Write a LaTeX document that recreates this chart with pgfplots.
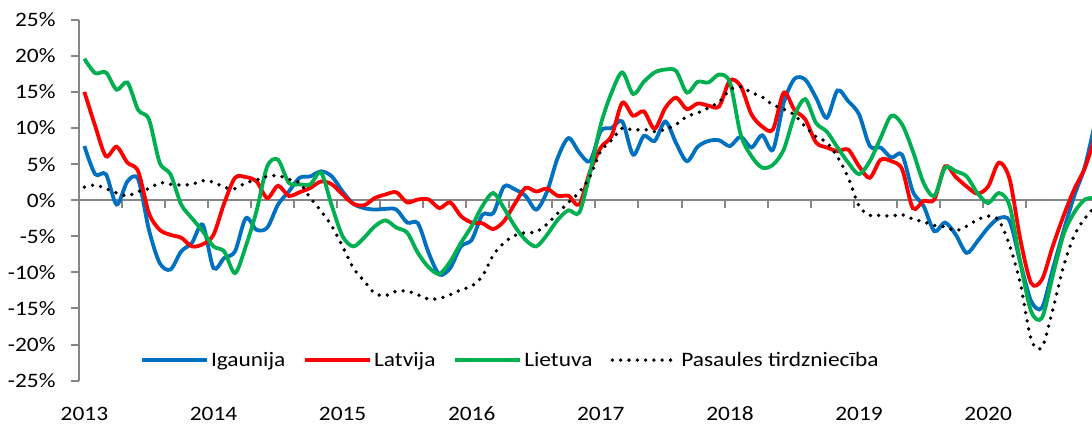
\documentclass[border=0pt]{standalone}
\usepackage{pgfplots}
\pgfplotsset{compat=1.18}
\usepackage{pgfplotstable}
\usepackage{fontspec}
\setmainfont{Carlito}[FakeStretch=1.14]
\definecolor{cblue}{HTML}{0070C0}
\definecolor{cred}{HTML}{FF0000}
\definecolor{cgreen}{HTML}{00B050}
\definecolor{axgray}{HTML}{868686}

\pgfplotstableread{
m b r g w
0 7.5 15.0 19.6 1.8
1 3.6 10.3 17.6 2.1
2 3.6 6.1 17.7 1.6
3 -0.6 7.4 15.3 1.0
4 2.6 5.2 16.3 0.6
5 2.9 4.0 12.5 1.2
6 -4.1 -1.8 11.2 1.6
7 -8.7 -4.1 5.2 2.4
8 -9.6 -4.8 3.6 2.2
9 -7.1 -5.2 -0.6 2.1
10 -5.9 -6.4 -2.5 2.2
11 -3.4 -6.1 -4.3 2.7
12 -9.4 -4.8 -6.4 2.5
13 -8.0 -0.4 -7.1 1.8
14 -7.1 3.1 -10.1 1.6
15 -2.5 3.2 -6.4 2.4
16 -4.1 2.6 -1.5 2.8
17 -3.8 0.3 4.7 3.3
18 -0.6 2.0 5.6 3.4
19 1.2 0.6 2.4 2.9
20 3.1 1.1 2.2 2.4
21 3.3 1.7 2.2 0.3
22 4.0 2.6 3.8 -1.5
23 3.3 2.2 -0.8 -3.6
24 1.2 0.8 -5.0 -6.4
25 -0.5 -0.5 -6.4 -9.4
26 -1.1 -0.7 -5.2 -11.2
27 -1.3 0.3 -3.6 -12.9
28 -1.2 0.8 -2.8 -13.2
29 -1.3 1.1 -3.8 -12.6
30 -3.1 -0.3 -4.5 -12.6
31 -3.2 0.1 -7.3 -13.1
32 -7.3 0.1 -9.3 -13.7
33 -10.3 -1.1 -10.2 -13.6
34 -9.4 -0.3 -8.5 -13.1
35 -6.4 -2.2 -5.9 -12.4
36 -5.5 -3.1 -3.6 -11.9
37 -2.0 -3.2 -0.8 -10.5
38 -1.8 -4.0 1.0 -7.6
39 1.9 -2.9 -1.1 -5.9
40 1.5 -0.5 -3.6 -4.9
41 0.6 1.7 -5.5 -4.5
42 -1.3 1.2 -6.4 -4.4
43 1.2 1.6 -4.8 -3.3
44 5.9 0.6 -2.7 -1.8
45 8.6 0.6 -1.4 -0.3
46 6.6 -0.6 -1.7 1.1
47 5.4 4.0 3.8 3.3
48 9.6 7.3 10.5 6.8
49 10.0 8.9 14.9 8.3
50 10.9 13.5 17.7 10.0
51 6.3 11.7 14.7 9.7
52 8.9 12.3 16.4 9.8
53 8.2 9.9 17.7 9.5
54 10.9 12.8 18.1 9.8
55 7.9 14.2 17.9 10.5
56 5.4 12.6 14.9 11.6
57 7.4 13.4 16.4 12.1
58 8.2 13.1 16.3 12.8
59 8.3 13.0 17.4 13.6
60 7.5 16.6 16.3 15.3
61 8.8 15.8 9.1 15.7
62 7.3 11.9 6.1 14.9
63 9.0 10.2 4.5 14.3
64 7.0 9.8 4.9 13.2
65 13.5 14.9 7.0 12.6
66 16.8 12.5 11.7 11.8
67 16.7 11.2 14.0 10.2
68 14.2 8.0 10.7 8.8
69 11.4 7.3 9.5 8.0
70 15.2 6.8 7.3 6.0
71 13.7 7.0 5.2 3.1
72 11.9 4.7 3.6 -0.8
73 7.5 3.1 5.4 -2.1
74 7.3 5.6 8.6 -2.1
75 5.9 5.4 11.7 -2.2
76 6.3 4.3 10.5 -2.0
77 1.2 -1.1 6.8 -2.6
78 -0.8 -0.1 2.4 -3.0
79 -4.3 0.1 0.6 -3.5
80 -3.1 4.7 4.5 -3.7
81 -4.8 3.2 4.0 -4.2
82 -7.3 1.9 3.3 -3.6
83 -5.7 0.9 1.0 -2.7
84 -3.8 1.9 -0.4 -2.2
85 -2.5 5.2 1.0 -2.8
86 -2.9 2.9 -0.8 -6.3
87 -8.7 -5.5 -8.7 -11.6
88 -14.0 -11.5 -15.4 -19.3
89 -14.9 -11.0 -16.3 -20.4
90 -9.6 -6.4 -10.5 -15.2
91 -4.3 -2.2 -4.8 -9.2
92 0.6 1.5 -1.7 -4.9
93 4.7 4.5 0.1 -2.5
94 11.2 9.1 0.3 -0.8
}\data

\begin{document}
\begin{tikzpicture}
\path[use as bounding box] (0,0) rectangle (1092pt,425pt);
\begin{axis}[
  at={(79pt,44.3pt)}, anchor=south west,
  scale only axis, width=1013pt, height=361pt,
  xmin=-0.5, xmax=93.65, ymin=-25, ymax=25,
  axis x line=middle, axis y line=left,
  x axis line style={-, draw=axgray, line width=2pt},
  y axis line style={-, draw=axgray, line width=2pt},
  hide obscured x ticks=false, hide obscured y ticks=false,
  xmajorticks=true, ymajorticks=true,
  tick align=outside, xtick align=outside, ytick align=outside,
  major tick length=8pt,
  every tick/.style={draw=axgray, line width=2pt, solid},
  xtick={-0.5,3.5,...,91.5},
  xticklabels={2013,,,2014,,,2015,,,2016,,,2017,,,2018,,,2019,,,2020,,},
  xticklabel style={xshift=5.4pt, yshift=-195pt},
  ytick={-25,-20,...,25},
  yticklabels={-25\%,-20\%,-15\%,-10\%,-5\%,0\%,5\%,10\%,15\%,20\%,25\%},
  yticklabel style={xshift=-12pt},
  tick label style={font=\fontsize{20.5pt}{24pt}\selectfont, text=black},
  legend columns=4,
  legend style={at={(axis cs:5.17,-22.15)}, anchor=west, draw=none, fill=none,
    inner sep=0pt, font=\fontsize{20.5pt}{24pt}\selectfont,
    /tikz/every even column/.append style={column sep=16pt}},
  legend image code/.code={\draw[#1] (0pt,0pt) -- (65pt,0pt);},
]
\addplot[cblue, line width=3.8pt, smooth, tension=0.5] table[x=m, y=b] {\data};
\addlegendentry{Igaunija}
\addplot[cred, line width=3.8pt, smooth, tension=0.5] table[x=m, y=r] {\data};
\addlegendentry{Latvija}
\addplot[cgreen, line width=3.8pt, smooth, tension=0.5] table[x=m, y=g] {\data};
\addlegendentry{Lietuva}
\addplot[black, line width=3.8pt, line cap=round, dash pattern=on 0pt off 8.3pt, smooth, tension=0.5] table[x=m, y=w] {\data};
\addlegendentry{Pasaules tirdzniecība}
\end{axis}
\end{tikzpicture}
\end{document}
